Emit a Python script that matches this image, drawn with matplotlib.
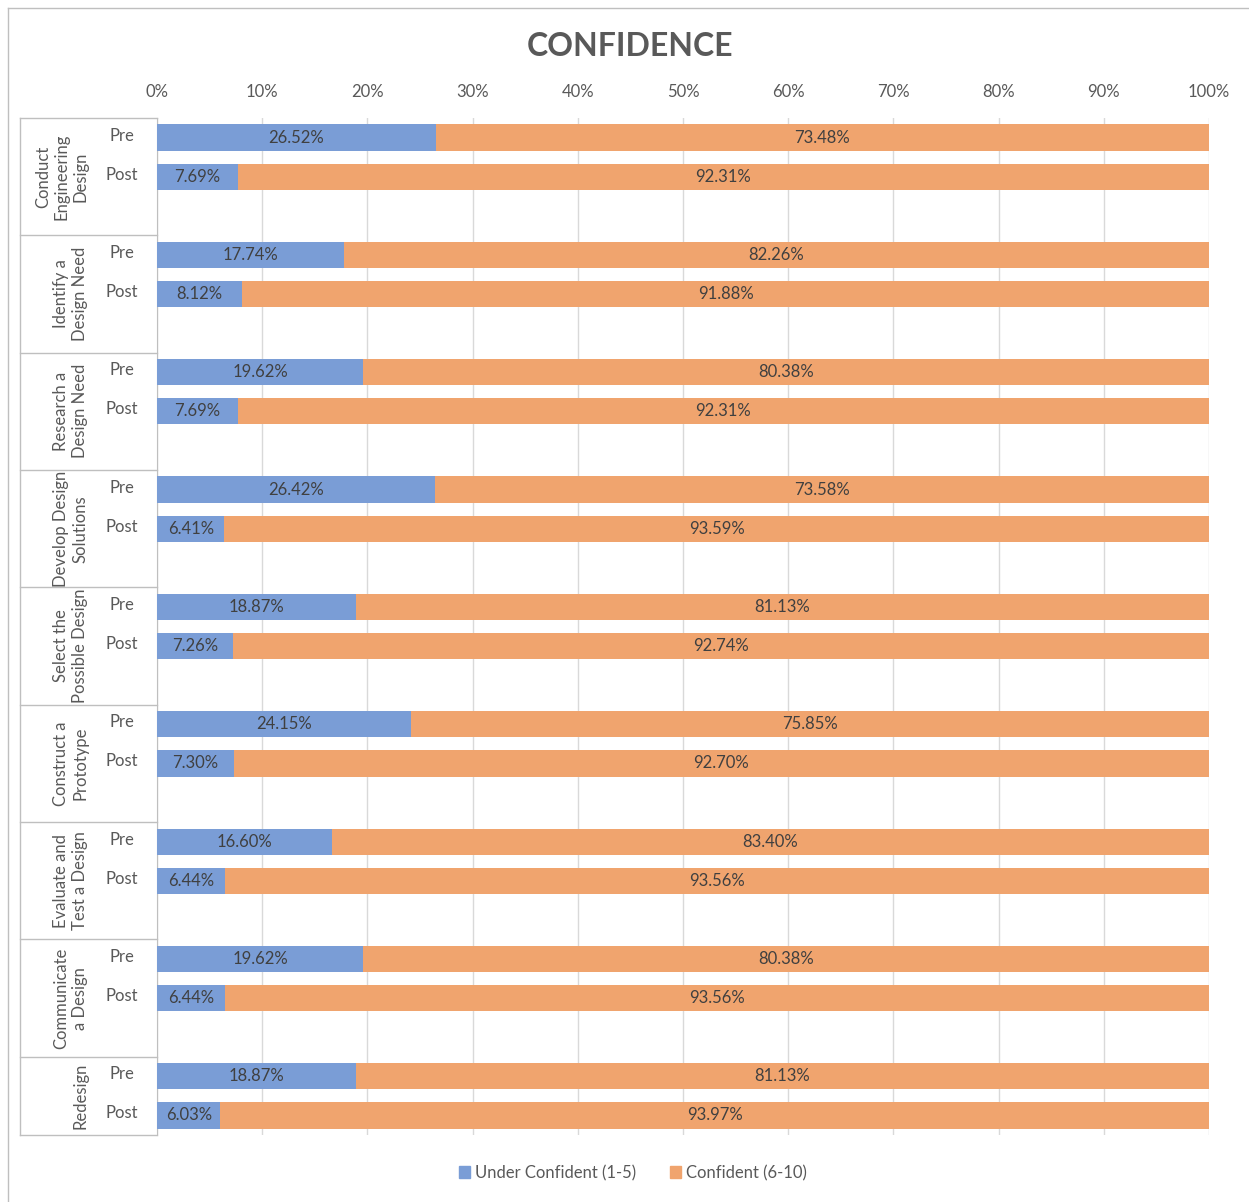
import matplotlib
matplotlib.use("Agg")
import matplotlib.pyplot as plt
from matplotlib.lines import Line2D
from matplotlib.patches import Patch
import matplotlib.transforms as mtransforms

plt.rcParams['font.family'] = ['Lato', 'DejaVu Sans']

categories = ["Conduct\nEngineering\nDesign", "Identify a\nDesign Need", "Research a\nDesign Need",
              "Develop Design\nSolutions", "Select the\nPossible Design", "Construct a\nPrototype",
              "Evaluate and\nTest a Design", "Communicate\na Design", "Redesign"]
phases = ["Pre", "Post"]
pre_under = [26.52, 17.74, 19.62, 26.42, 18.87, 24.15, 16.60, 19.62, 18.87]
pre_conf = [73.48, 82.26, 80.38, 73.58, 81.13, 75.85, 83.40, 80.38, 81.13]
post_under = [7.69, 8.12, 7.69, 6.41, 7.26, 7.30, 6.44, 6.44, 6.03]
post_conf = [92.31, 91.88, 92.31, 93.59, 92.74, 92.70, 93.56, 93.56, 93.97]
series_names = ["Under Confident (1-5)", "Confident (6-10)"]
xticks = list(range(0, 101, 10))

BLUE = '#7A9DD6'
ORANGE = '#F0A46E'
TXT = '#404040'
GREY = '#595959'
GRID = '#D9D9D9'
LINE = '#BFBFBF'

W, H = 1249, 1202
fig = plt.figure(figsize=(W / 100, H / 100), dpi=100)
x0, x1, y0, y1 = 157, 1209, 118, 1135
ax = fig.add_axes([x0 / W, 1 - y1 / H, (x1 - x0) / W, (y1 - y0) / H])

# three slots per category (pre, post, blank), last category without the blank
n_slots = len(categories) * 3 - 1
for i, cat in enumerate(categories):
    for j, (u, c) in enumerate([(pre_under[i], pre_conf[i]), (post_under[i], post_conf[i])]):
        y = i * 3 + j
        ax.barh(y, u, height=0.67, color=BLUE, zorder=3)
        ax.barh(y, c, left=u, height=0.67, color=ORANGE, zorder=3)
        ax.text(u / 2, y, f"{u:.2f}%", ha='center', va='center', fontsize=12, color=TXT, zorder=4)
        ax.text(u + c / 2, y, f"{c:.2f}%", ha='center', va='center', fontsize=12, color=TXT, zorder=4)

ax.set_xlim(0, 100)
ax.set_ylim(n_slots - 0.5, -0.5)
ax.xaxis.tick_top()
ax.set_xticks(xticks)
ax.set_xticklabels([f"{t}%" for t in xticks], fontsize=12, color=GREY)
ax.tick_params(axis='x', length=0, pad=13)
ax.set_yticks([])
ax.grid(axis='x', color=GRID, linewidth=1, zorder=0)
for s in ['top', 'right', 'bottom']:
    ax.spines[s].set_visible(False)
ax.spines['left'].set_color(LINE)

# two-level category labels on the left
trans = mtransforms.blended_transform_factory(ax.transAxes, ax.transData)
left_x = (20 - x0) / (x1 - x0)
cat_x = (88 - x0) / (x1 - x0)
phase_x = (122 - x0) / (x1 - x0)
ax.add_line(Line2D([left_x, left_x], [-0.5, n_slots - 0.5], transform=trans,
                   color=LINE, lw=1, clip_on=False))
for i, cat in enumerate(categories):
    top = i * 3 - 0.5
    bottom = min(i * 3 + 2.5, n_slots - 0.5)
    ax.add_line(Line2D([left_x, 0], [top, top], transform=trans, color=LINE, lw=1, clip_on=False))
    ax.text(cat_x, (top + bottom) / 2, cat, transform=trans, rotation=90, ha='right', va='center',
            ma='center', fontsize=12, color=GREY, linespacing=1.2)
    for j, p in enumerate(phases):
        ax.text(phase_x, i * 3 + j - 0.05, p, transform=trans, ha='center', va='center',
                fontsize=12, color=GREY)
ax.add_line(Line2D([left_x, 0], [n_slots - 0.5, n_slots - 0.5], transform=trans,
                   color=LINE, lw=1, clip_on=False))

fig.text(630 / W, 1 - 46 / H, "CONFIDENCE", ha='center', va='center', fontsize=23,
         fontweight='bold', color=GREY)

# chart frame
fig.add_artist(Line2D([8 / W, 8 / W], [0, 1 - 8 / H], color=LINE, lw=1))
fig.add_artist(Line2D([8 / W, 1], [1 - 8 / H, 1 - 8 / H], color=LINE, lw=1))

handles = [Patch(color=BLUE), Patch(color=ORANGE)]
fig.legend(handles, series_names, loc='center', bbox_to_anchor=(633 / W, 1 - 1173 / H), ncol=2,
           frameon=False, fontsize=12, handlelength=0.7, handleheight=0.7, handletextpad=0.3,
           columnspacing=2.0, labelcolor=GREY)

fig.savefig("out.png", dpi=100)
